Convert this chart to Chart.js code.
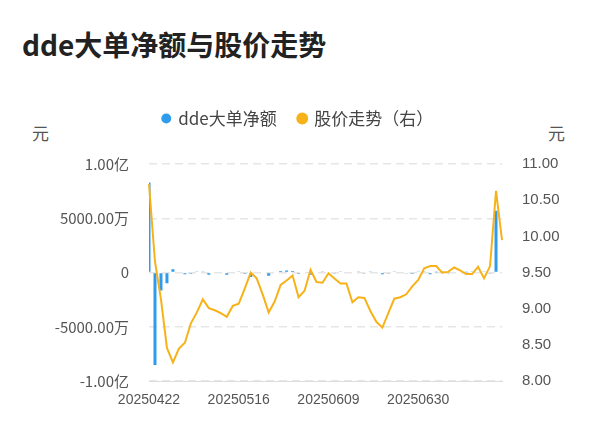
<!DOCTYPE html>
<html>
<head>
<meta charset="utf-8">
<script src="https://cdn.jsdelivr.net/npm/chart.js@4"></script>
<style>
  body { margin: 0; background: #fff; font-family: "Noto Sans CJK SC", "Noto Sans", sans-serif; }
  #wrap { position: relative; width: 600px; height: 446px; }
  #title { position: absolute; left: 22px; top: 24px; font-size: 28px; font-weight: bold; color: #222; }
  .unit { position: absolute; top: 120px; font-size: 17px; color: #555; }
  #box { position: absolute; left: 0; top: 80px; width: 600px; height: 366px; }
</style>
</head>
<body>
<div id="wrap">
  <div id="title">dde大单净额与股价走势</div>
  <div class="unit" style="left:32px">元</div>
  <div class="unit" style="left:548px">元</div>
  <div id="box"><canvas id="chart"></canvas></div>
</div>
<script>
const dates = [
  "20250422","20250423","20250424","20250425","20250428","20250429","20250430",
  "20250506","20250507","20250508","20250509","20250512","20250513","20250514","20250515","20250516",
  "20250519","20250520","20250521","20250522","20250523","20250526","20250527","20250528","20250529","20250530",
  "20250603","20250604","20250605","20250606","20250609","20250610","20250611","20250612","20250613",
  "20250616","20250617","20250618","20250619","20250620","20250623","20250624","20250625","20250626","20250627",
  "20250630","20250701","20250702","20250703","20250704","20250707","20250708","20250709","20250710","20250711",
  "20250714","20250715","20250716","20250717","20250718",
];
// dde net amount, unit: 万元
const ddeValues = [
  8300, -8500, -1650, -970, 300, 0, -150, -100, 50, 50,
  -200, -50, -50, -200, -50, 100, -100, -400, -50, -50,
  -300, -50, 150, 200, 150, -100, -50, -200, -50, 50,
  -50, -80, 60, -50, 80, 60, -40, 50, -60, -150,
  -40, 50, 70, -40, -100, 50, 60, -150, 40, 50,
  -40, 80, -50, 40, 100, -60, 50, -80, 5700, 0,
];
// share price, unit: 元
const priceValues = [
  10.72, 9.65, 9.13, 8.46, 8.26, 8.45, 8.53, 8.80, 8.95, 9.13,
  9.01, 8.98, 8.94, 8.89, 9.04, 9.07, 9.28, 9.50, 9.42, 9.20,
  8.95, 9.10, 9.33, 9.39, 9.46, 9.16, 9.25, 9.54, 9.37, 9.36,
  9.49, 9.42, 9.35, 9.35, 9.09, 9.16, 9.15, 8.97, 8.82, 8.74,
  8.94, 9.14, 9.16, 9.20, 9.31, 9.40, 9.56, 9.59, 9.59, 9.50,
  9.51, 9.57, 9.53, 9.48, 9.48, 9.58, 9.42, 9.59, 10.63, 9.95,
];

const fmtLeft = (v) => {
  if (v === 0) return "0";
  if (Math.abs(v) >= 10000) return (v / 10000).toFixed(2) + "亿";
  return v.toFixed(2) + "万";
};

// make room between legend and plot area
const legendGap = {
  id: "legendGap",
  beforeInit(chart) {
    const fit = chart.legend.fit;
    chart.legend.fit = function () {
      fit.bind(chart.legend)();
      this.height = 76;
    };
  },
};

new Chart(document.getElementById("chart"), {
  data: {
    labels: dates,
    datasets: [
      {
        type: "bar",
        label: "dde大单净额",
        data: ddeValues,
        backgroundColor: "#2e9bec",
        maxBarThickness: 3,
        yAxisID: "y",
        order: 2,
      },
      {
        type: "line",
        label: "股价走势（右）",
        data: priceValues,
        borderColor: "#f7b21a",
        backgroundColor: "#f7b21a",
        borderWidth: 2,
        pointRadius: 0,
        tension: 0,
        yAxisID: "y1",
        order: 1,
      },
    ],
  },
  plugins: [legendGap],
  options: {
    responsive: true,
    maintainAspectRatio: false,
    animation: false,
    layout: { padding: { left: 10, right: 14, bottom: 34, top: 8 } },
    plugins: {
      legend: {
        labels: {
          usePointStyle: true,
          pointStyle: "circle",
          boxWidth: 7,
          boxHeight: 7,
          color: "#444",
          font: { size: 17, family: "Noto Sans CJK SC" },
          padding: 22,
          sort: (a, b) => a.datasetIndex - b.datasetIndex,
        },
      },
      tooltip: { enabled: false },
    },
    scales: {
      x: {
        offset: false,
        grid: { display: false },
        border: { color: "#ddd" },
        ticks: {
          autoSkip: false,
          maxRotation: 0,
          minRotation: 0,
          color: "#555",
          font: { size: 14, family: "Liberation Sans" },
          callback: (value, index) => (index % 15 === 0 ? dates[index] : ""),
        },
      },
      y: {
        position: "left",
        min: -10000,
        max: 10000,
        afterFit: (s) => { s.width = 139; },
        grid: { color: "#e6e6e6", drawTicks: false, lineWidth: 1.5 },
        border: { display: false, dash: [8, 5] },
        ticks: {
          stepSize: 5000,
          padding: 20,
          color: "#555",
          font: { size: 15, family: "Noto Sans CJK SC" },
          callback: fmtLeft,
        },
      },
      y1: {
        position: "right",
        min: 8,
        max: 11,
        afterFit: (s) => { s.width = 84; },
        grid: { display: false },
        border: { display: false },
        ticks: {
          stepSize: 0.5,
          padding: 12,
          color: "#555",
          font: { size: 15, family: "Liberation Sans" },
          callback: (v) => v.toFixed(2),
        },
      },
    },
  },
});
</script>
</body>
</html>
